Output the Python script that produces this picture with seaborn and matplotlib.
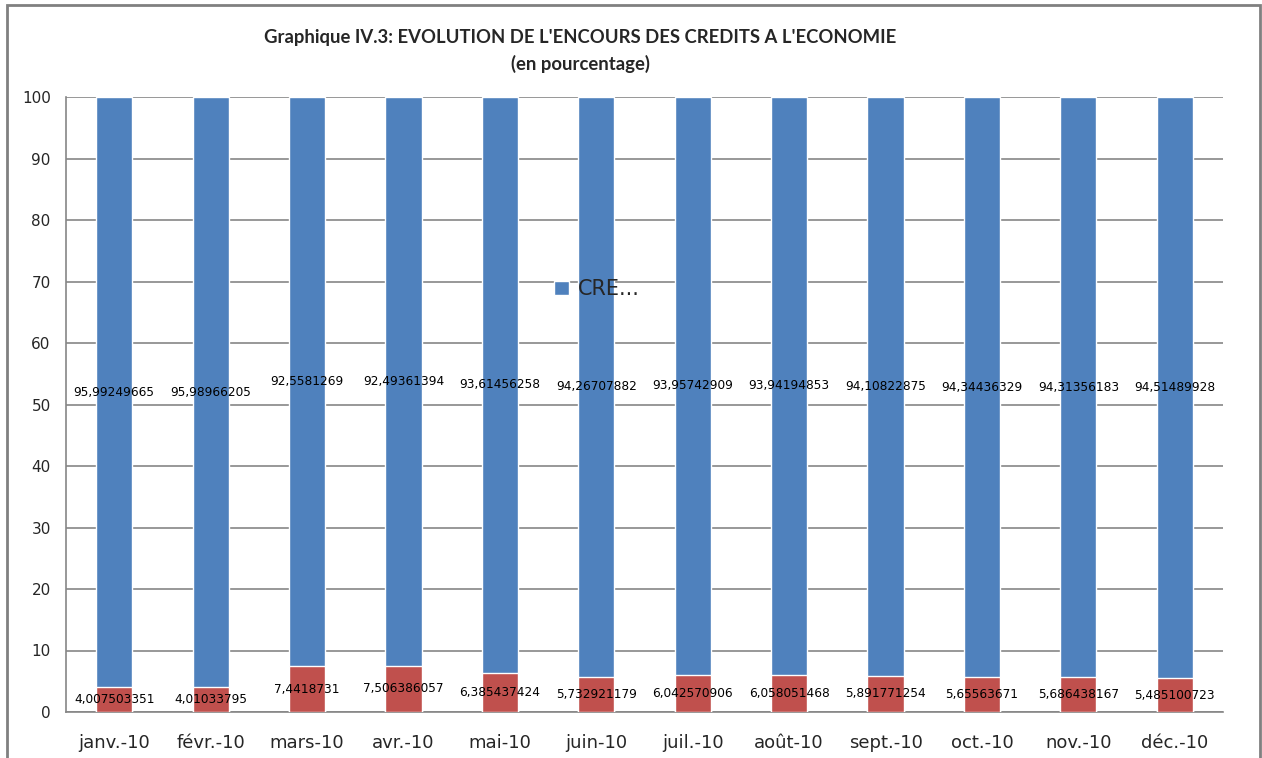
import matplotlib
matplotlib.use("Agg")
import matplotlib.pyplot as plt
from matplotlib.patches import Patch, Rectangle
import numpy as np
import pandas as pd
import seaborn as sns

months = ["janv.-10", "févr.-10", "mars-10", "avr.-10", "mai-10", "juin-10",
          "juil.-10", "août-10", "sept.-10", "oct.-10", "nov.-10", "déc.-10"]
red_vals = [4.007503351, 4.01033795, 7.4418731, 7.506386057, 6.385437424, 5.732921179,
            6.042570906, 6.058051468, 5.891771254, 5.65563671, 5.686438167, 5.485100723]
blue_vals = [95.99249665, 95.98966205, 92.5581269, 92.49361394, 93.61456258, 94.26707882,
             93.95742909, 93.94194853, 94.10822875, 94.34436329, 94.31356183, 94.51489928]
red_txt = ["4,007503351", "4,01033795", "7,4418731", "7,506386057", "6,385437424", "5,732921179",
           "6,042570906", "6,058051468", "5,891771254", "5,65563671", "5,686438167", "5,485100723"]
blue_txt = ["95,99249665", "95,98966205", "92,5581269", "92,49361394", "93,61456258", "94,26707882",
            "93,95742909", "93,94194853", "94,10822875", "94,34436329", "94,31356183", "94,51489928"]

BLUE = "#4F81BD"
RED = "#C0504D"
GRID = "#868686"

df = pd.DataFrame({"mois": months, "red": red_vals, "blue": blue_vals})
df["total"] = df["red"] + df["blue"]

sns.set_style("white")
plt.rcParams["font.family"] = ["DejaVu Sans"]

fig = plt.figure(figsize=(12.62, 7.58), dpi=100)
ax = fig.add_axes([66 / 1262, 1 - 712 / 758, (1223 - 66) / 1262, (712 - 97) / 758])

# stacked bars: total in blue, red part drawn over it
sns.barplot(data=df, x="mois", y="total", color=BLUE, saturation=1, width=0.375,
            edgecolor="white", linewidth=1, ax=ax, zorder=3)
sns.barplot(data=df, x="mois", y="red", color=RED, saturation=1, width=0.375,
            edgecolor="white", linewidth=1, ax=ax, zorder=4)

for i in range(len(months)):
    ax.text(i, red_vals[i] / 2, red_txt[i], ha="center", va="center",
            fontsize=8.7, color="black", zorder=6)
    ax.text(i, red_vals[i] + blue_vals[i] / 2, blue_txt[i], ha="center", va="center",
            fontsize=8.7, color="black", zorder=6)

ax.set_ylim(0, 100)
ax.set_xlim(-0.5, len(months) - 0.5)
ax.set_yticks(np.arange(0, 101, 10))
ax.yaxis.grid(True, color=GRID, linewidth=1.2, zorder=0)
ax.set_axisbelow(True)
ax.set_xlabel("")
ax.set_ylabel("")

for s in ["top", "right"]:
    ax.spines[s].set_visible(False)
for s in ["left", "bottom"]:
    ax.spines[s].set_color(GRID)
    ax.spines[s].set_linewidth(1.2)

ax.set_xticks(np.arange(-0.5, len(months), 1), minor=True)
ax.tick_params(axis="x", which="major", length=0, pad=16, labelsize=13)
ax.tick_params(axis="x", which="minor", length=6, color=GRID, direction="out")
ax.tick_params(axis="y", length=5, color=GRID, direction="out", pad=6, labelsize=11)

leg = ax.legend(handles=[Patch(facecolor=BLUE, label="CRE...")], loc="center left",
                bbox_to_anchor=(0.406, 0.687), frameon=False, fontsize=15,
                handlelength=0.7, handleheight=0.7, handletextpad=0.4)

fig.text(580 / 1262, 1 - 38 / 758, "Graphique IV.3: EVOLUTION DE L'ENCOURS DES CREDITS A L'ECONOMIE",
         ha="center", va="center", fontsize=13.3, fontweight="bold", family=["Lato", "DejaVu Sans"])
fig.text(580 / 1262, 1 - 64 / 758, "(en pourcentage)",
         ha="center", va="center", fontsize=13.3, fontweight="bold", family=["Lato", "DejaVu Sans"])

# outer chart frame
fig.patches.append(Rectangle((7 / 1262, -0.05), (1260 - 7) / 1262, 1.05 - 5 / 758,
                             transform=fig.transFigure, fill=False, edgecolor="#808080",
                             linewidth=2))

fig.savefig("out.png", dpi=100)
